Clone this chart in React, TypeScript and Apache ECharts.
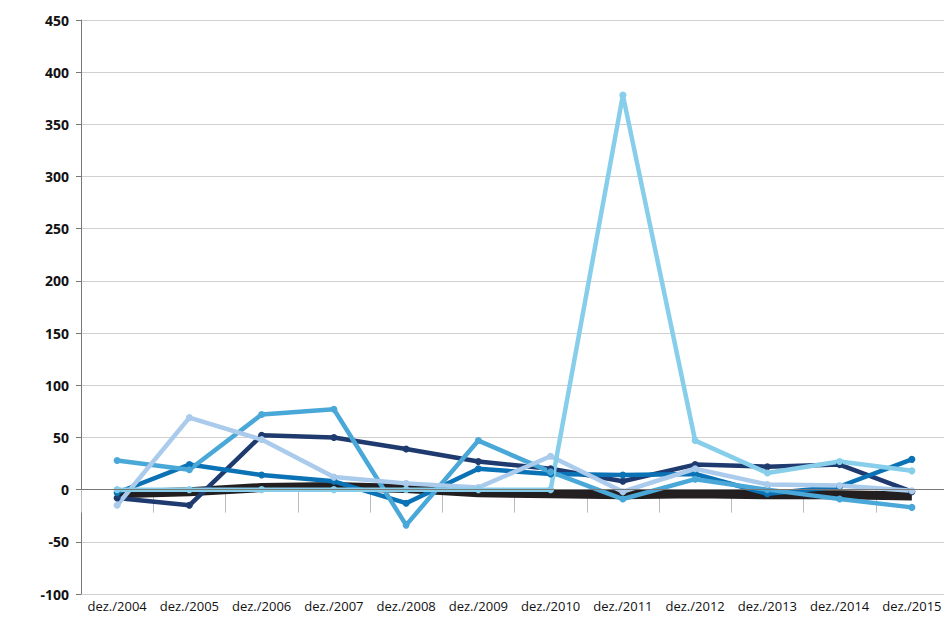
import React, { useEffect, useRef } from "react";
import * as echarts from "echarts";

const categories = ["dez./2004", "dez./2005", "dez./2006", "dez./2007", "dez./2008", "dez./2009", "dez./2010", "dez./2011", "dez./2012", "dez./2013", "dez./2014", "dez./2015"];
const blackValues = [-4, -2, 2, 3, 1, -3, -4, -5, -4, -5, -5, -6];
const navyValues = [-8, -15, 52, 50, 39, 27, 20, 8, 24, 22, 24, -2];
const blueValues = [-3, 24, 14, 8, -13, 20, 15, 14, 15, -4, 3, 29];
const tealValues = [28, 19, 72, 77, -34, 47, 17, -9, 10, 0, -9, -17];
const paleValues = [-15, 69, 48, 12, 6, 2, 32, -2, 20, 5, 4, -1];
const skyValues = [0, 0, 0, 0, 0, 0, 0, 378, 47, 16, 27, 18];

const App: React.FC = () => {
  const chartRef = useRef<HTMLDivElement>(null);

  useEffect(() => {
    if (!chartRef.current) return;
    const chart = echarts.init(chartRef.current, undefined, { renderer: "svg" });
    const mk = (data: number[], color: string, width = 4.5, symbol = "circle") => ({
      type: "line",
      data,
      color,
      symbol,
      symbolSize: symbol === "none" ? 0 : 7,
      lineStyle: { width, color },
      itemStyle: { color },
    });
    chart.setOption({
      animation: false,
      grid: { left: 73, right: 0, top: 12, bottom: 23 },
      xAxis: {
        type: "category",
        data: categories,
        boundaryGap: true,
        axisLine: { show: false },
        axisTick: { show: true, inside: false, length: 23, lineStyle: { color: "#bbb" } },
        axisLabel: { color: "#111", fontSize: 13, fontFamily: "Open Sans", margin: 5, interval: 0 },
      },
      yAxis: {
        type: "value",
        min: -100,
        max: 450,
        interval: 50,
        axisLine: { show: true, lineStyle: { color: "#777" } },
        axisTick: { show: true, length: 5, lineStyle: { color: "#777" } },
        axisLabel: { color: "#111", fontSize: 14, fontWeight: "bold", fontFamily: "Open Sans", margin: 12 },
        splitLine: { lineStyle: { color: "#d0d0d0" } },
      },
      series: [
        { ...mk(blackValues, "#231f20", 9, "none"),
          markLine: { silent: true, symbol: "none", label: { show: false }, lineStyle: { color: "#777", type: "solid", width: 1 }, data: [{ yAxis: 0 }] } },
        mk(navyValues, "#1f3a6e"),
        mk(blueValues, "#0a72b5"),
        mk(tealValues, "#4aa8d8"),
        mk(paleValues, "#aacbeb"),
        mk(skyValues, "#87ceeb"),
      ],
    });
    return () => chart.dispose();
  }, []);

  return <div ref={chartRef} style={{ width: 940, height: 609 }} />;
};

export default App;
